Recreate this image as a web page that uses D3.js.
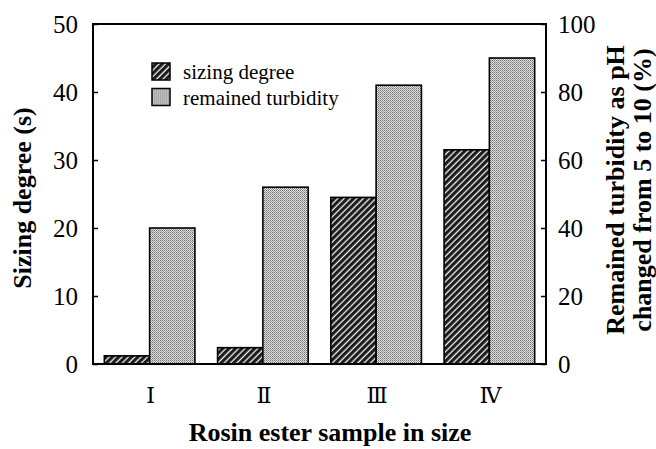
<!DOCTYPE html>
<html>
<head>
<meta charset="utf-8">
<script src="https://cdn.jsdelivr.net/npm/d3@7"></script>
<style>
  html, body { margin: 0; padding: 0; background: #fff; }
  svg { display: block; }
</style>
</head>
<body>
<div id="chart"></div>
<script>
// Rosin ester samples
const categories = ["Ⅰ", "Ⅱ", "Ⅲ", "Ⅳ"];
// Sizing degree (s), left axis
const sizingDegree = [1.2, 2.4, 24.5, 31.5];
// Remained turbidity as pH changed from 5 to 10 (%), right axis
const remainedTurbidity = [40, 52, 82, 90];
const leftTicks = [0, 10, 20, 30, 40, 50];
const rightTicks = [0, 20, 40, 60, 80, 100];

const W = 656, H = 449;
const m = { left: 93, right: 546, top: 24, bottom: 364 };
const SERIF = "Liberation Serif, DejaVu Serif, serif";

const svg = d3.select("#chart").append("svg")
  .attr("width", W).attr("height", H)
  .attr("font-family", SERIF);

const defs = svg.append("defs");

// Dark diagonal hatch
const hatch = defs.append("pattern")
  .attr("id", "hatch")
  .attr("patternUnits", "userSpaceOnUse")
  .attr("width", 4.5).attr("height", 4.5)
  .attr("patternTransform", "rotate(45)");
hatch.append("rect").attr("width", 4.5).attr("height", 4.5).attr("fill", "#1a1a1a");
hatch.append("line").attr("x1", 1.2).attr("y1", 0).attr("x2", 1.2).attr("y2", 4.5)
  .attr("stroke", "#f4f4f4").attr("stroke-width", 1.3);

// Light gray stipple
const stip = defs.append("pattern")
  .attr("id", "stipple")
  .attr("patternUnits", "userSpaceOnUse")
  .attr("width", 2).attr("height", 2);
stip.append("rect").attr("width", 2).attr("height", 2).attr("fill", "#e2e2e2");
stip.append("rect").attr("x", 0).attr("y", 0).attr("width", 1).attr("height", 1).attr("fill", "#6e6e6e");
stip.append("rect").attr("x", 1).attr("y", 1).attr("width", 1).attr("height", 1).attr("fill", "#9a9a9a");

const x0 = d3.scaleBand().domain(categories).range([m.left, m.right])
  .paddingInner(0.2).paddingOuter(0.1);
const x1 = d3.scaleBand().domain(["sizing", "turbidity"]).range([0, x0.bandwidth()]);
const yL = d3.scaleLinear().domain([0, 50]).range([m.bottom, m.top]);
const yR = d3.scaleLinear().domain([0, 100]).range([m.bottom, m.top]);

// Bars
const g = svg.append("g");
g.selectAll("rect.sz").data(categories).join("rect")
  .attr("class", "sz")
  .attr("x", d => x0(d) + x1("sizing"))
  .attr("y", (d, i) => yL(sizingDegree[i]))
  .attr("width", x1.bandwidth())
  .attr("height", (d, i) => yL(0) - yL(sizingDegree[i]))
  .attr("fill", "url(#hatch)")
  .attr("stroke", "#000").attr("stroke-width", 1.6);

g.selectAll("rect.tb").data(categories).join("rect")
  .attr("class", "tb")
  .attr("x", d => x0(d) + x1("turbidity"))
  .attr("y", (d, i) => yR(remainedTurbidity[i]))
  .attr("width", x1.bandwidth())
  .attr("height", (d, i) => yR(0) - yR(remainedTurbidity[i]))
  .attr("fill", "url(#stipple)")
  .attr("stroke", "#000").attr("stroke-width", 1.6);

// Left axis (ticks point inward)
const axL = svg.append("g").attr("transform", `translate(${m.left},0)`)
  .call(d3.axisRight(yL).tickValues(leftTicks).tickSize(5).tickFormat(""));
axL.select(".domain").remove();
axL.selectAll("line").attr("stroke", "#000").attr("stroke-width", 1.5);

svg.append("g").selectAll("text").data(leftTicks).join("text")
  .attr("x", m.left - 15).attr("y", d => yL(d)).attr("dy", "0.35em")
  .attr("text-anchor", "end").attr("font-size", 25)
  .attr("font-family", SERIF).text(d => d);

// Right axis (ticks point inward)
const axR = svg.append("g").attr("transform", `translate(${m.right},0)`)
  .call(d3.axisLeft(yR).tickValues(rightTicks).tickSize(5).tickFormat(""));
axR.select(".domain").remove();
axR.selectAll("line").attr("stroke", "#000").attr("stroke-width", 1.5);

svg.append("g").selectAll("text").data(rightTicks).join("text")
  .attr("x", m.right + 12).attr("y", d => yR(d)).attr("dy", "0.35em")
  .attr("text-anchor", "start").attr("font-size", 25)
  .attr("font-family", SERIF).text(d => d);

// Frame
svg.append("rect")
  .attr("x", m.left).attr("y", m.top)
  .attr("width", m.right - m.left).attr("height", m.bottom - m.top)
  .attr("fill", "none").attr("stroke", "#000").attr("stroke-width", 2);

// Category labels
svg.append("g").selectAll("text").data(categories).join("text")
  .attr("x", d => x0(d) + x0.bandwidth() / 2 + 1)
  .attr("y", 403)
  .attr("text-anchor", "middle")
  .attr("font-size", 22)
  .attr("font-family", "DejaVu Serif, Liberation Serif, serif")
  .text(d => d);

// Axis titles
const titleAttrs = sel => sel.attr("text-anchor", "middle").attr("font-size", 26)
  .attr("font-weight", "bold").attr("font-family", SERIF);

svg.append("text")
  .attr("transform", `translate(31,${(m.top + m.bottom) / 2 + 4}) rotate(-90)`)
  .call(titleAttrs).text("Sizing degree (s)");

svg.append("text")
  .attr("transform", `translate(624,${(m.top + m.bottom) / 2 - 4}) rotate(-90)`)
  .call(titleAttrs).text("Remained turbidity as pH");
svg.append("text")
  .attr("transform", `translate(651,${(m.top + m.bottom) / 2 - 4}) rotate(-90)`)
  .call(titleAttrs).text("changed from 5 to 10 (%)");

svg.append("text")
  .attr("x", 330).attr("y", 441)
  .call(titleAttrs).text("Rosin ester sample in size");

// Legend
const legendItems = [
  { label: "sizing degree", fill: "url(#hatch)" },
  { label: "remained turbidity", fill: "url(#stipple)" }
];
const lg = svg.append("g").selectAll("g").data(legendItems).join("g")
  .attr("transform", (d, i) => `translate(152,${63 + i * 25.5})`);
lg.append("rect").attr("width", 18).attr("height", 17)
  .attr("fill", d => d.fill).attr("stroke", "#000").attr("stroke-width", 1.5);
lg.append("text").attr("x", 31).attr("y", 16)
  .attr("font-size", 21).attr("font-family", SERIF).text(d => d.label);
</script>
</body>
</html>
